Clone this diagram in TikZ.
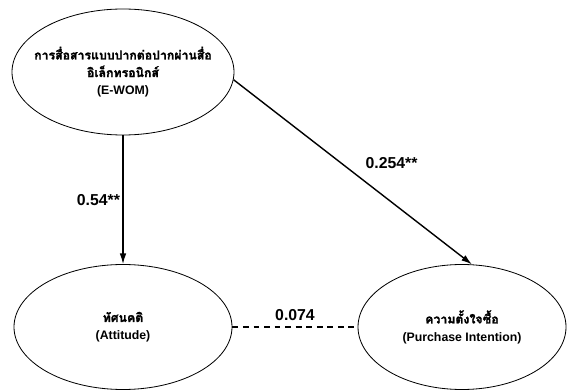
\documentclass[tikz,border=0pt]{standalone}
\usepackage{fontspec}
\setmainfont{Liberation Sans}
\newfontfamily\thaifont[Script=Thai,FakeBold=1.6]{Loma}
\usetikzlibrary{shapes.geometric,arrows.meta,positioning}

\begin{document}
\begin{tikzpicture}[
  construct/.style={draw=black,ellipse,line width=0.7pt,align=center,inner sep=-9pt,font=\bfseries\fontsize{10.5}{15}\selectfont},
  effect/.style={-{Latex[length=3.2mm,width=2mm]},line width=1.2pt},
  coef/.style={font=\bfseries\fontsize{13.5}{15}\selectfont,inner sep=2pt}]
\useasboundingbox (0,0) rectangle (17.04,-11.76);
\node[construct,minimum width=6.66cm,minimum height=3.78cm] (ewom) at (3.69,-2.16) {{\thaifont การสื่อสารแบบปากต่อปากผ่านสื่อ}\\{\thaifont อิเล็กทรอนิกส์}\\(E-WOM)};
\node[construct,minimum width=6.54cm,minimum height=3.75cm] (attitude) at (3.69,-9.81) {{\thaifont ทัศนคติ}\\(Attitude)};
\node[construct,minimum width=6.24cm,minimum height=3.75cm] (intention) at (13.86,-9.81) {{\thaifont ความตั้งใจซื้อ}\\(Purchase Intention)};
\draw[effect] (ewom.south) -- node[coef,left,pos=0.5] (c1) {0.54**} (attitude.north);
\draw[effect] (ewom.-4) -- node[coef,pos=0.6,above right=0.57cm and -0.42cm] (c2) {0.254**} (intention.81);
\draw[dashed,line width=1.2pt,dash pattern=on 5pt off 4pt] (attitude.east) -- node[coef,above=3pt] (c3) {0.074} (intention.west);
\end{tikzpicture}
\end{document}
